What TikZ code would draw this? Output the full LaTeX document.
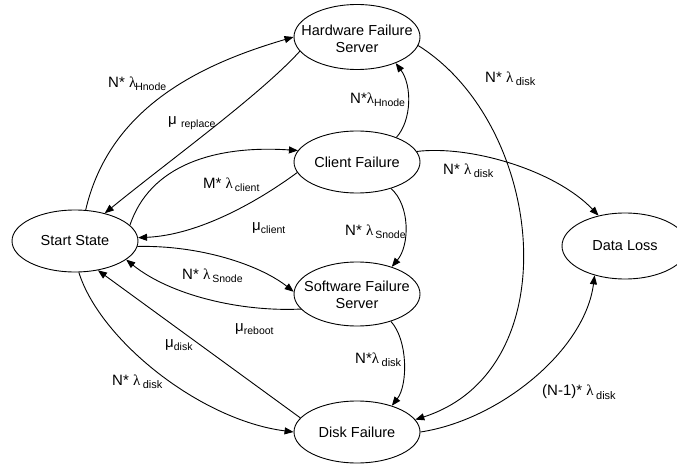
\documentclass[tikz,border=0pt]{standalone}
\usepackage{fontspec}
\setmainfont{Liberation Sans}
\newfontfamily\grkfont{Liberation Serif}
\usetikzlibrary{shapes.geometric,arrows.meta}
% rate symbols and their small lowered indices
\newcommand\lam{{\grkfont λ}}
\newcommand\sbs[1]{\raisebox{-3.5pt}{\fontsize{10.5}{11}\selectfont #1}}
\newcommand\sbd{\raisebox{-3.5pt}{\fontsize{11}{12}\selectfont disk}}
\begin{document}
\begin{tikzpicture}[x=1pt,y=-1pt,
  state/.style={ellipse,draw,line width=0.9pt,minimum width=126pt,minimum height=62pt,inner sep=0pt},
  stxt/.style={align=center,inner sep=0pt,font=\fontsize{14.5}{16.5}\selectfont},
  trans/.style={line width=0.9pt,-{Triangle[length=9pt,width=7pt]}},
  lbl/.style={anchor=west,inner sep=0pt,font=\fontsize{15}{16}\selectfont}]
\path[use as bounding box,clip] (0,0) rectangle (677,465);

% states
\node[state] (start) at (75,241) {};
\node[stxt] (starttext) at (start) {Start State};
\node[state,minimum height=65pt] (hw) at (357,37) {};
\node[stxt] (hwtext) at ([yshift=-2pt]hw.center) {Hardware Failure\\Server};
\node[state] (client) at (357,162) {};
\node[stxt] (clienttext) at (client) {Client Failure};
\node[state,minimum height=64pt] (sw) at (357,294) {};
\node[stxt] (swtext) at ([yshift=-1pt]sw.center) {Software Failure\\Server};
\node[state] (disk) at (357,432) {};
\node[stxt] (disktext) at (disk) {Disk Failure};
\node[state,minimum height=66pt] (loss) at (625,246) {};
\node[stxt] (losstext) at (loss) {Data Loss};

% transitions
\draw[trans] (start.71) .. controls (110,105) and (205,63) .. (hw.180);
\draw[trans] (hw.194) .. controls (260,95) and (170,160) .. (start.43);
\draw[trans] (start.16) .. controls (150,165) and (215,145) .. (client.169);
\draw[trans] (client.190) .. controls (260,200) and (200,235) .. (start.3);
\draw[trans] (client.32) .. controls (412,120) and (412,85) .. (hw.-34);
\draw[trans] (hw.-8) .. controls (545,125) and (570,370) .. (disk.12);
\draw[trans] (client.10) .. controls (470,145) and (555,170) .. (loss.131);
\draw[trans] (client.-38) .. controls (410,205) and (410,245) .. (sw.38);
\draw[trans] (start.-5) .. controls (200,245) and (260,265) .. (sw.178);
\draw[trans] (sw.195) .. controls (240,312) and (170,295) .. (start.-20);
\draw[trans] (disk.166) -- (start.-52);
\draw[trans] (start.-83) .. controls (100,340) and (200,420) .. (disk.180);
\draw[trans] (sw.-39) .. controls (408,340) and (408,385) .. (disk.37);
\draw[trans] (disk.0) .. controls (500,420) and (585,350) .. (loss.224);

% rates
\node[lbl] (l1) at (108,84) {N* \lam\kern-1pt\sbs{Hnode}};
\node[lbl] (l2) at (168,123) {μ \sbs{replace}};
\node[lbl] (l3) at (203,185) {M* \lam\kern2pt\sbs{client}};
\node[lbl] (l4) at (252,228) {μ\sbs{client}};
\node[lbl] (l5) at (350,100) {N*\lam\sbs{Hnode}};
\node[lbl] (l6) at (485,79) {N* \lam\kern2.5pt\sbd};
\node[lbl] (l7) at (443,171) {N* \lam\kern2.5pt\sbd};
\node[lbl] (l8) at (345,232) {N* \lam\kern2pt\sbs{Snode}};
\node[lbl] (l9) at (182,276) {N* \lam\kern2pt\sbs{Snode}};
\node[lbl] (l10) at (235,329) {μ\sbs{reboot}};
\node[lbl] (l11) at (165,345) {μ\sbs{disk}};
\node[lbl] (l12) at (112,382) {N* \lam\kern2.5pt\sbd};
\node[lbl] (l13) at (355,360) {N*\lam\kern2.5pt\sbd};
\node[lbl] (l14) at (542,392) {(N-1)* \lam\kern2.5pt\sbd};
\end{tikzpicture}
\end{document}
